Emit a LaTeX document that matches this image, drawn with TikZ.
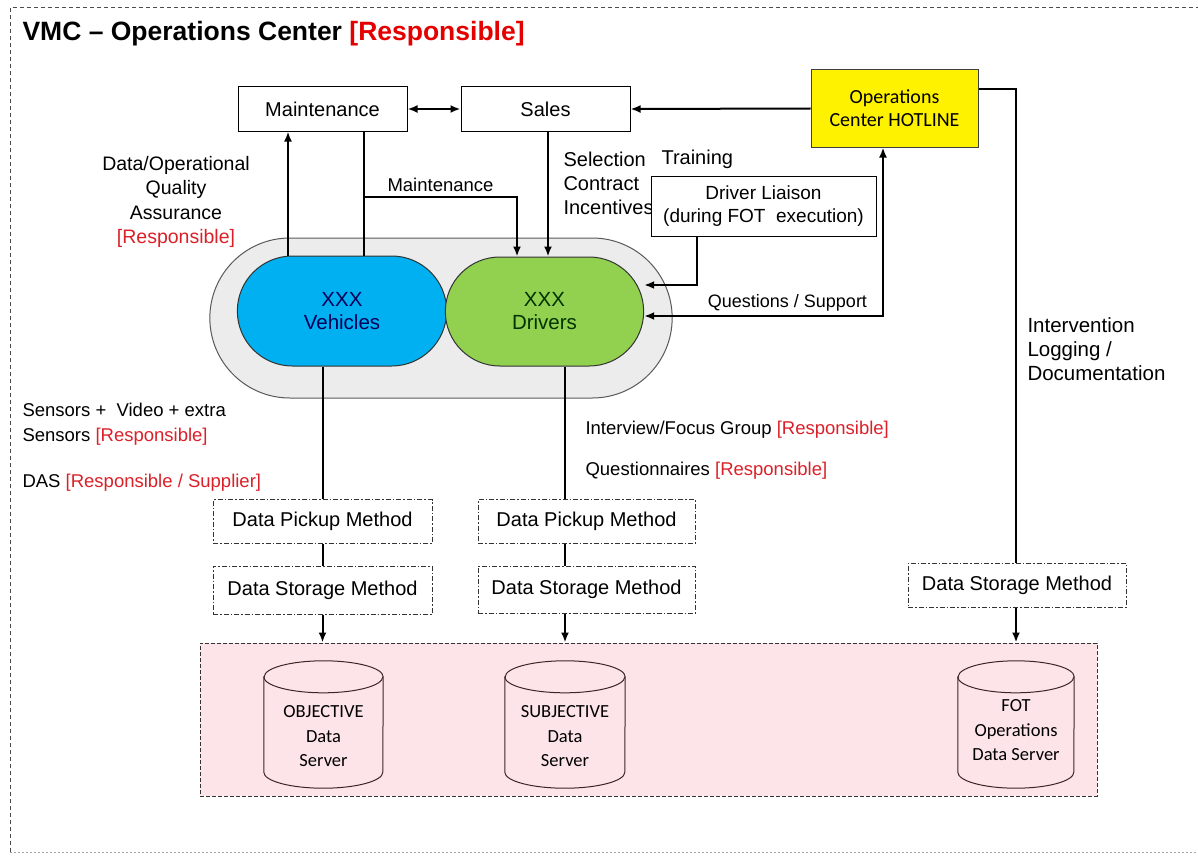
\documentclass[tikz,border=0pt]{standalone}
\usepackage{fontspec}
\setmainfont{Liberation Sans}
\newfontfamily\calfont{Carlito}
\usetikzlibrary{shapes.misc,arrows.meta}

\definecolor{respred}{RGB}{218,32,40}
\definecolor{vehblue}{RGB}{0,176,240}
\definecolor{drvgreen}{RGB}{146,208,80}
\definecolor{groupgray}{RGB}{236,236,236}
\definecolor{serverpink}{RGB}{253,228,232}
\definecolor{dbline}{RGB}{64,36,36}

% cylinder drawn round an (empty) node: #1 node name, #2 x radius
\newcommand{\dbcyl}[2]{%
  \draw[dbline, line width=1pt, fill=serverpink]
    ([yshift=-16pt]#1.north west) -- ([yshift=16pt]#1.south west)
    arc[start angle=180, end angle=360, x radius=#2, y radius=16pt]
    -- ([yshift=-16pt]#1.north east)
    arc[start angle=0, end angle=180, x radius=#2, y radius=16pt] -- cycle;
  \draw[dbline, line width=1pt] ([yshift=-16pt]#1.north west)
    arc[start angle=180, end angle=360, x radius=#2, y radius=16pt];
}

\begin{document}
\begin{tikzpicture}[
    x=1pt, y=-1pt,
    box/.style={
        rectangle,
        draw,
        line width=1pt,
        fill=white,
        minimum width=169pt,
        minimum height=44pt,
        font=\fontsize{20}{24}\selectfont
    },
    method/.style={
        rectangle,
        draw=black!80,
        line width=1pt,
        dash pattern=on 5pt off 2pt on 1.5pt off 2pt,
        fill=white,
        minimum width=219pt,
        minimum height=44pt,
        font=\fontsize{20}{24}\selectfont
    },
    pill/.style={
        rounded rectangle,
        draw=black!80,
        line width=1pt,
        minimum width=216pt,
        minimum height=110pt,
        align=center,
        font=\fontsize{20.5}{23}\selectfont
    },
    db/.style={rectangle, minimum width=119pt, minimum height=127pt, inner sep=0pt},
    dbtext/.style={align=center, font=\calfont\fontsize{18.5}{24.5}\selectfont},
    lbl/.style={font=\fontsize{18.5}{24.5}\selectfont},
    conn/.style={line width=2pt},
    arr/.style={->, >={Latex[length=10pt,width=8pt]}, line width=2pt},
    dbl/.style={<->, >={Latex[length=10pt,width=8pt]}, line width=2pt}
]

\useasboundingbox (0,0) rectangle (1198,856);

% Frame
\draw[black!70, line width=1pt, dash pattern=on 4pt off 3pt] (10,852) -- (10,8) -- (1210,8);
\draw[black!35, line width=1pt, dash pattern=on 2pt off 2pt] (10,852) -- (1210,852);

\node[anchor=base west, font=\bfseries\fontsize{26.5}{30}\selectfont] (title) at (19,41)
    {VMC -- Operations Center \textcolor{red!90!black}{[Responsible]}};

% Top row
\node[box] (mnt) at (322.5,109) {Maintenance};
\node[box] (sales) at (545.5,109) {Sales};
\node[box, fill=yellow, draw=black!75, minimum width=167pt, minimum height=77pt,
    align=center, font=\calfont\fontsize{20}{23}\selectfont] (hot) at (894.5,108.5)
    {Operations\\Center HOTLINE};

% Selection / training text and liaison
\node[lbl, anchor=west, align=left, font=\fontsize{20}{24}\selectfont] (sel) at (560,183)
    {Selection\\Contract\\Incentives};
\node[lbl, anchor=west, font=\fontsize{20}{24}\selectfont] (train) at (658,159) {Training};
\node[box, minimum width=225pt, minimum height=60pt, align=center,
    font=\fontsize{19}{23}\selectfont] (liaison) at (763.5,206)
    {Driver Liaison\\(during FOT\ \ execution)};

% Vehicles and drivers
\node[rounded rectangle, draw=black!65, line width=1pt, fill=groupgray,
    minimum width=469pt, minimum height=160pt] (fleet) at (441,318) {};
\node[pill, fill=vehblue, text=blue!35!black] (veh) at (342,311) {XXX\\Vehicles};
\node[pill, fill=drvgreen, minimum width=205pt, minimum height=109pt,
    text=green!20!black] (drv) at (544.5,311.5) {XXX\\Drivers};

% Left texts
\node[lbl, align=center, font=\fontsize{19.5}{24.5}\selectfont] (qa) at (176,202)
    {Data/Operational\\Quality\\Assurance\\\textcolor{respred}{[Responsible]}};
\node[lbl, anchor=west, align=left] (sens) at (19,424)
    {Sensors +\ \ Video + extra\\Sensors \textcolor{respred}{[Responsible]}};
\node[lbl, anchor=west] (das) at (19,483) {DAS \textcolor{respred}{[Responsible / Supplier]}};

% Driver side texts
\node[lbl, anchor=west] (intv) at (582,430) {Interview/Focus Group \textcolor{respred}{[Responsible]}};
\node[lbl, anchor=west] (quest) at (582,471) {Questionnaires \textcolor{respred}{[Responsible]}};
\node[lbl, anchor=west, align=left, font=\fontsize{20.5}{24}\selectfont] (logtxt) at (1024,349)
    {Intervention\\Logging /\\Documentation};

% Methods
\node[method] (pick1) at (322.5,521.5) {Data Pickup Method};
\node[method, minimum height=48pt] (stor1) at (322.5,590) {Data Storage Method};
\node[method, minimum width=217pt] (pick2) at (586.5,521.5) {Data Pickup Method};
\node[method, minimum width=217pt, minimum height=47pt] (stor2) at (586.5,589.5) {Data Storage Method};
\node[method, minimum width=218pt] (stor3) at (1017,585) {Data Storage Method};

% Servers
\node[rectangle, draw=black!80, line width=1pt, dash pattern=on 4pt off 2pt, fill=serverpink,
    minimum width=897pt, minimum height=153pt] (servers) at (648.5,719.5) {};
\node[db] (db1) at (323.5,724.5) {};
\node[db, minimum width=120pt] (db2) at (565,724.5) {};
\node[db, minimum width=116pt] (db3) at (1016,724.5) {};
\dbcyl{db1}{59.5pt}
\dbcyl{db2}{60pt}
\dbcyl{db3}{58pt}
\node[dbtext] (db1t) at ([yshift=-12pt]db1.center) {OBJECTIVE\\Data\\Server};
\node[dbtext] (db2t) at ([yshift=-12pt]db2.center) {SUBJECTIVE\\Data\\Server};
\node[dbtext] (db3t) at ([yshift=-6pt]db3.center) {FOT\\Operations\\Data Server};

% Top connectors
\draw[dbl] (mnt.east) -- (sales.west);
\draw[arr] (hot.west) -- (sales.east);
\draw[arr] ([xshift=-34.5pt]mnt.south |- veh.north) -- ([xshift=-34.5pt]mnt.south);
\draw[conn] ([xshift=41.5pt]mnt.south) -- ([xshift=41.5pt]mnt.south |- veh.north);
\coordinate (mfork) at ([xshift=41.5pt, yshift=-65pt]mnt.south);
\draw[arr] (mfork) -| node[pos=0.25, above, lbl] {Maintenance} ([xshift=-27.5pt]drv.north);
\draw[arr] ([xshift=2.5pt]sales.south) -- ([xshift=2.5pt]sales.south |- drv.north);
\draw[arr] ([xshift=-66.5pt]liaison.south) |- ([yshift=26.5pt]drv.east);
\draw[dbl] ([yshift=-4.5pt]drv.east) -| node[pos=0.3, above, lbl, font=\fontsize{18}{22}\selectfont]
    {Questions / Support} ([xshift=-11.5pt]hot.south);
\draw[conn] ([yshift=19.5pt]hot.east) -| ([xshift=-1pt]stor3.north);

% Down to the servers
\draw[conn] (pick1.north |- veh.south) -- (pick1.north);
\draw[conn] (pick1.south) -- (stor1.north);
\draw[arr] (stor1.south) -- (stor1.south |- servers.north);
\draw[conn] ([xshift=20.5pt]drv.south) -- ([xshift=20.5pt]drv.south |- pick2.north);
\draw[conn] ([xshift=-21.5pt]pick2.south) -- ([xshift=-21.5pt]stor2.north);
\draw[arr] ([xshift=-21.5pt]stor2.south) -- ([xshift=-21.5pt]stor2.south |- servers.north);
\draw[arr] ([xshift=-1pt]stor3.south) -- ([xshift=-1pt]stor3.south |- servers.north);

\end{tikzpicture}
\end{document}
